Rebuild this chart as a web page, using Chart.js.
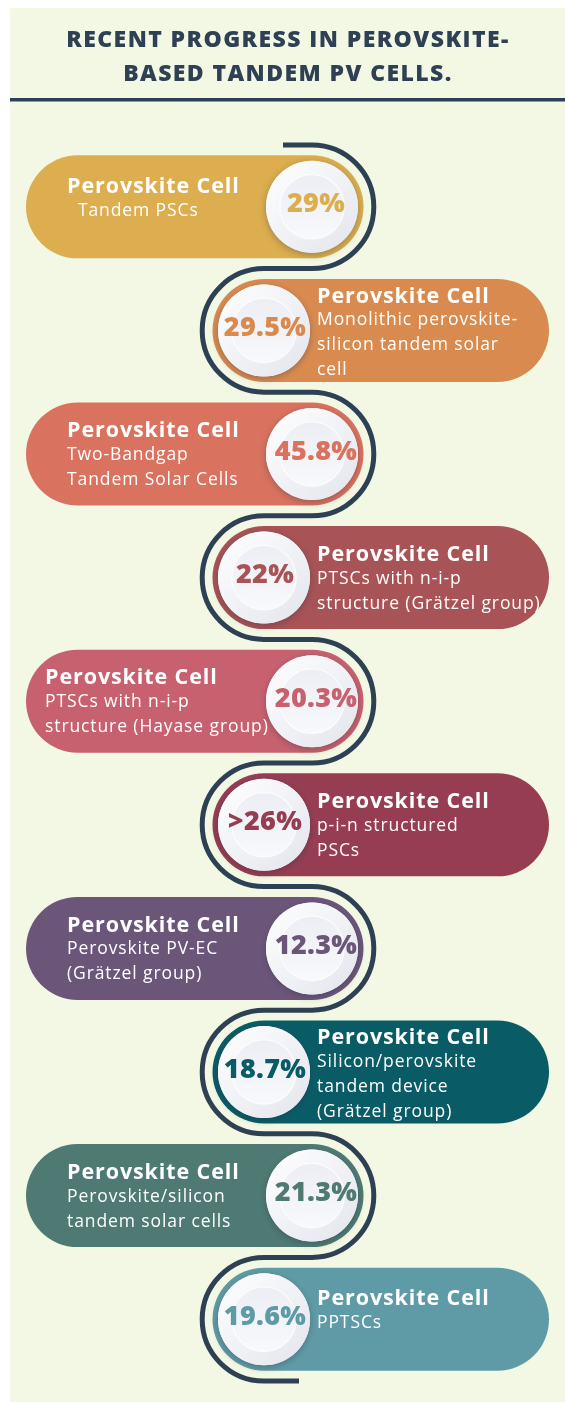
<!DOCTYPE html>
<html lang="en">
<head>
<meta charset="UTF-8">
<title>Recent progress in perovskite-based tandem PV cells</title>
<script src="https://cdn.jsdelivr.net/npm/chart.js"></script>
<style>
    html, body { margin: 0; padding: 0; background: #ffffff; }
    #wrap { width: 565px; height: 1402px; }
</style>
</head>
<body>
<div id="wrap"><canvas id="progressChart" width="565" height="1402"></canvas></div>
<script>
// efficiency of each cell, top to bottom
const efficiency = [29, 29.5, 45.8, 22, 20.3, 26, 12.3, 18.7, 21.3, 19.6];
const valuePrefix = ['', '', '', '', '', '>', '', '', '', ''];
const cellTitle = 'Perovskite Cell';
const descriptions = [
    ['  Tandem PSCs'],
    ['Monolithic perovskite-', 'silicon tandem solar', 'cell'],
    ['Two-Bandgap', 'Tandem Solar Cells'],
    ['PTSCs with n-i-p', 'structure (Grätzel group)'],
    ['PTSCs with n-i-p', 'structure (Hayase group)'],
    ['p-i-n structured', 'PSCs'],
    ['Perovskite PV-EC', '(Grätzel group)'],
    ['Silicon/perovskite', 'tandem device', '(Grätzel group)'],
    ['Perovskite/silicon', 'tandem solar cells'],
    ['PPTSCs']
];
const pillColors = ['#dcae4f', '#d98b4f', '#d9725f', '#a85355', '#c8616f',
                    '#963d52', '#6b567a', '#095c66', '#4e7a73', '#5f9ba6'];
const titleLines = ['RECENT PROGRESS IN PEROVSKITE-', 'BASED TANDEM PV CELLS.'];

const NAVY = '#2e4154';
const FONT = '"Open Sans", "DejaVu Sans", sans-serif';

function drawPlate(ctx, x, y, r) {
    ctx.save();
    ctx.shadowColor = 'rgba(40,40,60,0.35)';
    ctx.shadowBlur = 7;
    ctx.shadowOffsetY = 2;
    ctx.beginPath();
    ctx.arc(x, y, r, 0, Math.PI * 2);
    ctx.fillStyle = '#e8eaf1';
    ctx.fill();
    ctx.restore();

    // rim
    let g = ctx.createLinearGradient(x - r, y - r, x + r, y + r);
    g.addColorStop(0, '#ffffff');
    g.addColorStop(1, '#e2e5ec');
    ctx.beginPath();
    ctx.arc(x, y, r, 0, Math.PI * 2);
    ctx.fillStyle = g;
    ctx.fill();

    // inner dish
    const ri = r * 0.7;
    g = ctx.createLinearGradient(x, y - ri, x, y + ri);
    g.addColorStop(0, '#eceef4');
    g.addColorStop(1, '#f8f9fc');
    ctx.beginPath();
    ctx.arc(x, y, ri, 0, Math.PI * 2);
    ctx.fillStyle = g;
    ctx.fill();
    ctx.strokeStyle = 'rgba(255,255,255,0.8)';
    ctx.lineWidth = 1.2;
    ctx.stroke();
}

const infographic = {
    id: 'infographic',
    beforeDraw(chart) {
        const ctx = chart.ctx;
        ctx.save();
        ctx.fillStyle = '#ffffff';
        ctx.fillRect(0, 0, chart.width, chart.height);
        ctx.fillStyle = '#f2f8e3';
        ctx.fillRect(10, 8, chart.width - 10, chart.height - 8);

        ctx.fillStyle = NAVY;
        ctx.textAlign = 'center';
        ctx.textBaseline = 'middle';
        ctx.font = '800 23px ' + FONT;
        ctx.letterSpacing = '1.4px';
        titleLines.forEach((t, i) => ctx.fillText(t, 288, 40 + i * 34));
        ctx.letterSpacing = '0px';

        ctx.fillRect(10, 98, chart.width - 10, 3.5);
        ctx.restore();
    },
    afterDatasetsDraw(chart) {
        const ctx = chart.ctx;
        const pts = chart.getDatasetMeta(0).data;
        const step = pts[1].y - pts[0].y;
        const R = step / 2;          // snake radius
        const pr = 51.5;             // pill half height
        const plateR = 46;
        ctx.save();

        // pills
        pts.forEach((p, i) => {
            const left = i % 2 === 0;
            ctx.beginPath();
            if (left) {
                ctx.roundRect(26, p.y - pr, p.x + pr - 26, pr * 2, pr);
            } else {
                ctx.roundRect(p.x - pr, p.y - pr, 549 - (p.x - pr), pr * 2, pr);
            }
            ctx.fillStyle = pillColors[i];
            ctx.fill();
        });

        // snake line
        ctx.beginPath();
        ctx.moveTo(283, pts[0].y - R);
        pts.forEach((p, i) => {
            const left = i % 2 === 0;
            ctx.lineTo(p.x, p.y - R);
            ctx.arc(p.x, p.y, R, -Math.PI / 2, Math.PI / 2, !left);
        });
        ctx.lineTo(299, pts[pts.length - 1].y + R);
        ctx.strokeStyle = NAVY;
        ctx.lineWidth = 5;
        ctx.stroke();

        // texts
        const subFont = '17.5px ' + FONT;
        const subSpacing = '0.9px';
        ctx.textBaseline = 'middle';
        ctx.textAlign = 'left';
        ctx.fillStyle = '#ffffff';
        pts.forEach((p, i) => {
            const left = i % 2 === 0;
            const lines = descriptions[i];
            ctx.font = subFont;
            ctx.letterSpacing = subSpacing;
            const widest = Math.max(...lines.map(l => ctx.measureText(l).width));
            let tx = left ? 67 : 317;
            if (left && widest > 205) tx = 45;
            const off = {1: -20, 2: -23, 3: -34}[lines.length];
            ctx.font = '700 21.5px ' + FONT;
            ctx.letterSpacing = '0.9px';
            ctx.fillText(cellTitle, tx, p.y + off);
            ctx.font = subFont;
            ctx.letterSpacing = subSpacing;
            lines.forEach((l, k) => ctx.fillText(l, tx, p.y + off + 24 + k * 25));
        });
        ctx.letterSpacing = '0px';

        // plates and percentages
        pts.forEach((p, i) => {
            drawPlate(ctx, p.x, p.y, plateR);
            ctx.font = '800 27px ' + FONT;
            ctx.letterSpacing = '0.3px';
            ctx.textAlign = 'center';
            ctx.fillStyle = pillColors[i];
            const label = valuePrefix[i] + efficiency[i] + '%';
            ctx.fillText(label, p.x + (i % 2 === 0 ? 4 : 1), p.y - 2);
        });
        ctx.letterSpacing = '0px';
        ctx.restore();
    }
};

const ctx = document.getElementById('progressChart').getContext('2d');
new Chart(ctx, {
    type: 'scatter',
    data: {
        datasets: [{
            label: 'Efficiency',
            // left-hand pills sit on x = 1, right-hand pills on x = 0
            data: efficiency.map((v, i) => ({ x: i % 2 === 0 ? 1 : 0, y: i })),
            pointRadius: 0,
            pointHoverRadius: 0
        }]
    },
    options: {
        responsive: false,
        animation: false,
        devicePixelRatio: 1,
        layout: { padding: { top: 145, bottom: 21, left: 264, right: 253 } },
        scales: {
            x: { type: 'linear', min: 0, max: 1, display: false },
            y: { type: 'linear', min: -0.5, max: 9.5, reverse: true, display: false }
        },
        plugins: { legend: { display: false }, tooltip: { enabled: false } },
        events: []
    },
    plugins: [infographic]
});
</script>
</body>
</html>
